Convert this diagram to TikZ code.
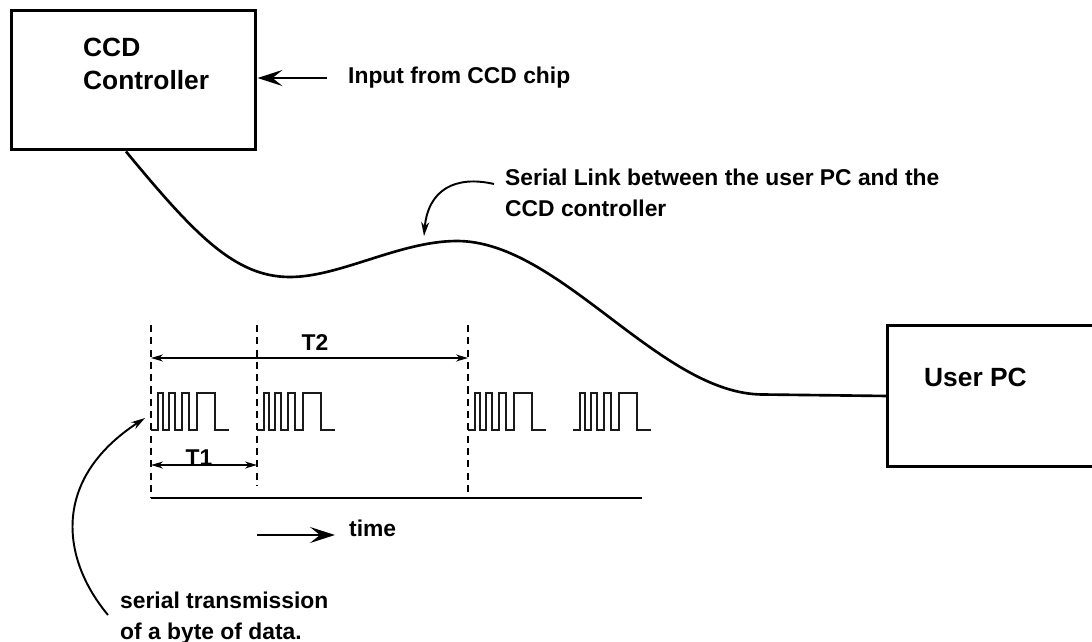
\documentclass[tikz,border=0pt]{standalone}
\usepackage{fontspec}
\setmainfont{Liberation Sans}
\usetikzlibrary{calc, arrows.meta}

\begin{document}
\begin{tikzpicture}[x=0.02cm, y=-0.02cm]
    % Define colors
    \definecolor{lineColour}{HTML}{000000}
    \definecolor{pulseColour}{HTML}{1A1A1A}

    % Define pulse levels
    \def\lowLevel{430}
    \def\pulseHeight{37}

    % Define styles
    \tikzset{
        unitBox/.style={draw=lineColour, line width=1.7pt, minimum width=4.9cm, minimum height=2.8cm},
        boxText/.style={font=\fontsize{15}{18.8}\selectfont\bfseries, align=left},
        noteText/.style={font=\fontsize{13}{17.6}\selectfont\bfseries, align=left},
        bigArrow/.style={line width=1.3pt, -{Stealth[length=0.5cm, width=0.32cm, inset=0.2cm]}},
        pointerArrow/.style={line width=1.1pt, -{Stealth[length=0.28cm, width=0.16cm]}},
        spanArrow/.style={line width=0.7pt, {Stealth[length=0.24cm, width=0.14cm]}-{Stealth[length=0.24cm, width=0.14cm]}},
        markerLine/.style={line width=0.9pt, dash pattern=on 4pt off 3pt},
        pulseLine/.style={draw=pulseColour, line width=0.8pt}
    }

    % Fix picture size
    \useasboundingbox (0,0) rectangle (1092,642);
    \clip (0,0) rectangle (1092,642);

    % Draw the two units
    \node[unitBox] (ccd) at (133.5,80) {};
    \node[unitBox, minimum width=4.6cm, minimum height=2.82cm, anchor=north west] (pc) at (886,324) {};
    \node[boxText, anchor=west] (ccdLabel) at (77,63.5) {CCD\\Controller};
    \node[boxText, anchor=west] (pcLabel) at (918,377) {User PC};

    % Labels
    \node[noteText, anchor=west] (inputText) at (342,78) {Input from CCD chip};
    \node[noteText, anchor=west] (linkText) at (499,193) {Serial Link between the user PC and the\\CCD controller};
    \node[noteText, anchor=west] (timeText) at (343,528) {time};
    \node[noteText, anchor=west] (byteText) at (114,618) {serial transmission\\of a byte of data.};
    \node[noteText] (tTwo) at (315,343) {T2};
    \node[noteText] (tOne) at (199,458) {T1};

    % Input arrow
    \draw[bigArrow] ([xshift=-0.3cm]inputText.west) -- (inputText.west -| ccd.east);

    % Draw serial link cable
    \draw[line width=1.5pt] ([xshift=-0.15cm]ccd.south) .. controls (195,235) and (235,277) .. (290,277)
        .. controls (340,277) and (400,241) .. (457,241)
        .. controls (560,241) and (660,394.5) .. (763,394.5) -- (pc.west);

    % Pointers to cable and pulses
    \coordinate (linkTip) at (424,236);
    \coordinate (byteTip) at (145,418);
    \draw[pointerArrow] ([shift={(-0.1cm,0.18cm)}]linkText.west) .. controls (455,175) and (428,190) .. (linkTip);
    \draw[pointerArrow] ([shift={(-0.12cm,0.06cm)}]byteText.west) .. controls (62,560) and (50,480) .. (byteTip);

    % Define coordinates for time markers
    \coordinate (m1) at (151,325);
    \coordinate (m2) at (257,325);
    \coordinate (m3) at (468,325);

    % Draw time markers and time axis
    \draw[markerLine] (m1) -- ++(0,173);
    \draw[markerLine] (m2) -- ++(0,160);
    \draw[markerLine] (m3) -- ++(0,173);
    \draw[line width=1.2pt] ($(m1)+(0,173)$) -- ++(491,0);

    % Draw periods
    \draw[spanArrow] ($(m1)+(0,33)$) -- ($(m3)+(0,33)$);
    \draw[spanArrow] ($(m1)+(0,140)$) -- ($(m2)+(0,140)$);

    % Time arrow
    \draw[bigArrow, line width=1pt] ([shift={(-1.72cm,-0.14cm)}]timeText.west) -- ([shift={(-0.16cm,-0.14cm)}]timeText.west);

    % Draw pulse trains
    \foreach \x in {151,257,468,573}
        \draw[pulseLine] (\x,\lowLevel) -- ++(7,0) -- ++(0,-\pulseHeight) -- ++(5,0) -- ++(0,\pulseHeight)
            -- ++(6,0) -- ++(0,-\pulseHeight) -- ++(6,0) -- ++(0,\pulseHeight)
            -- ++(7,0) -- ++(0,-\pulseHeight) -- ++(7,0) -- ++(0,\pulseHeight)
            -- ++(8,0) -- ++(0,-\pulseHeight) -- ++(18,0) -- ++(0,\pulseHeight) -- ++(14,0);

\end{tikzpicture}
\end{document}
